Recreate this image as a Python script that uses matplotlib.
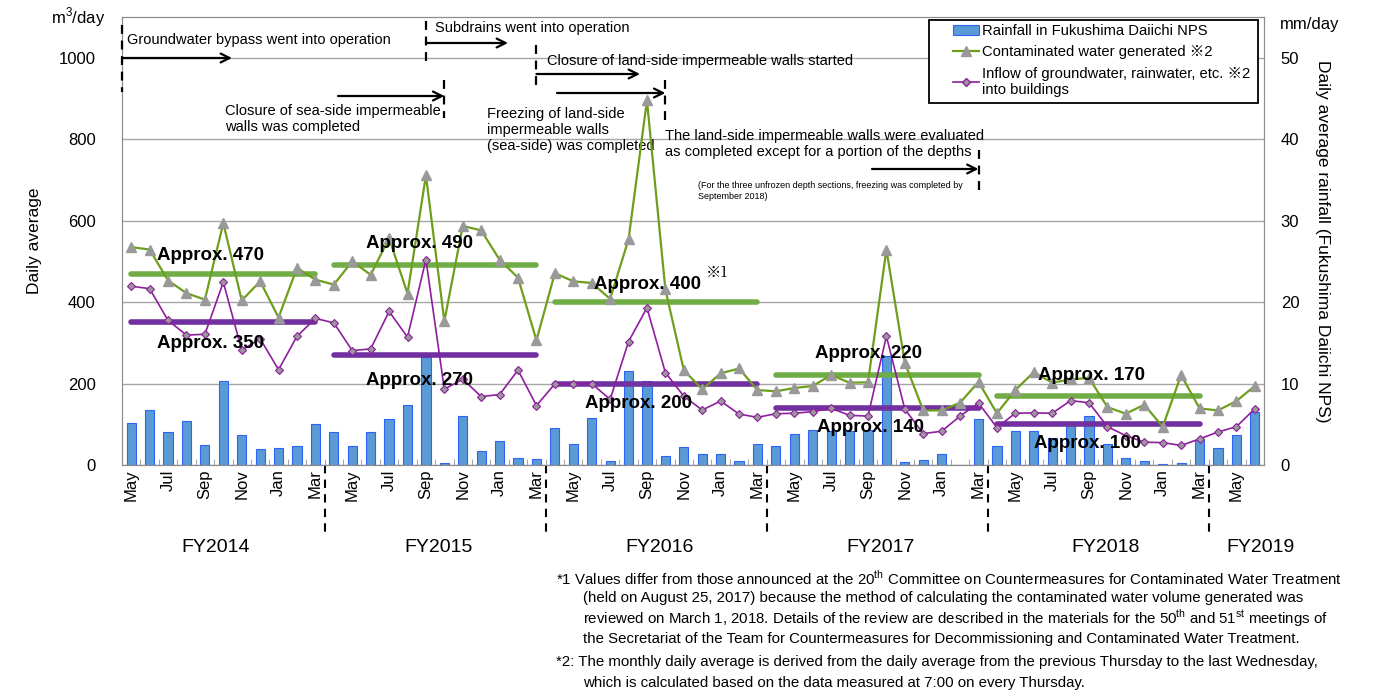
import matplotlib
matplotlib.use("Agg")
import matplotlib.pyplot as plt
import matplotlib.transforms as mtransforms
from matplotlib.patches import Patch, Rectangle
from matplotlib.lines import Line2D
import numpy as np

plt.rcParams['font.family'] = ['Liberation Sans', 'Noto Sans CJK JP', 'DejaVu Sans']
plt.rcParams['mathtext.fontset'] = 'custom'
plt.rcParams['mathtext.rm'] = 'Liberation Sans'

# ---------------- data ----------------
months = (['May', 'Jun', 'Jul', 'Aug', 'Sep', 'Oct', 'Nov', 'Dec', 'Jan', 'Feb', 'Mar']
          + ['Apr', 'May', 'Jun', 'Jul', 'Aug', 'Sep', 'Oct', 'Nov', 'Dec', 'Jan', 'Feb', 'Mar'] * 4
          + ['Apr', 'May', 'Jun'])
shown_months = ['May', 'Jul', 'Sep', 'Nov', 'Jan', 'Mar']

fiscal_years = ['FY2014', 'FY2015', 'FY2016', 'FY2017', 'FY2018', 'FY2019']

rainfall = [5.1, 6.7, 4.1, 5.4, 2.4, 10.3, 3.7, 2.0, 2.1, 2.3, 5.0,
            4.0, 2.3, 4.1, 5.6, 7.4, 13.2, 0.25, 6.0, 1.7, 3.0, 0.8, 0.7,
            4.5, 2.6, 5.8, 0.45, 11.5, 10.3, 1.1, 2.2, 1.35, 1.35, 0.45, 2.6,
            2.35, 3.8, 4.3, 4.2, 4.2, 4.3, 13.4, 0.4, 0.6, 1.3, 0.0, 5.6,
            2.35, 4.2, 4.2, 3.3, 5.3, 6.0, 2.6, 0.9, 0.5, 0.1, 0.25, 3.1,
            2.1, 3.7, 6.5]

contaminated = [535, 529, 453, 422, 406, 594, 404, 451, 362, 484, 455,
                443, 500, 467, 557, 421, 711, 353, 587, 576, 504, 460, 306,
                471, 451, 447, 408, 554, 895, 431, 233, 186, 225, 237, 184,
                181, 189, 194, 221, 202, 203, 529, 251, 134, 134, 153, 204,
                127, 184, 228, 202, 210, 214, 142, 126, 148, 94, 221, 139,
                134, 157, 194]

inflow = [439, 433, 355, 319, 321, 449, 282, 310, 234, 316, 360,
          349, 281, 285, 377, 314, 504, 186, 211, 168, 173, 233, 146,
          199, 199, 200, 161, 303, 386, 227, 169, 135, 157, 125, 117,
          126, 127, 131, 139, 122, 120, 316, 137, 77, 83, 120, 152,
          92, 127, 128, 127, 158, 153, 94, 72, 56, 55, 48, 64,
          81, 94, 138]

# FY averages
avg_contaminated = [470, 490, 400, 220, 170]
avg_inflow = [350, 270, 200, 140, 100]
fy_ranges = [(0, 10), (11, 22), (23, 34), (35, 46), (47, 58)]

# ---------------- figure ----------------
W, H = 1377, 694
fig = plt.figure(figsize=(W / 100, H / 100), dpi=100)
L, R, T, B = 122, 1264, 17, 465
ax = fig.add_axes([L / W, 1 - B / H, (R - L) / W, (B - T) / H])
ax2 = ax.twinx()

x = np.arange(len(months))

def px2x(px):
    return (px - L) / (R - L) * 62 - 0.5

def py2v(py):
    return (B - py) / (B - T) * 1100

# rainfall bars on ax (right scale)
ax.bar(x, rainfall, width=0.5, color='#5B9BD5', edgecolor='#2E64F5', linewidth=0.8, zorder=2)
ax.set_ylim(0, 55)
ax.set_xlim(-0.5, len(months) - 0.5)
ax.set_yticks([0, 10, 20, 30, 40, 50])
ax.yaxis.tick_right()
ax.yaxis.set_label_position('right')
ax.tick_params(axis='y', length=0, pad=12, labelsize=12)
ax.grid(axis='y', color='#A6A6A6', linewidth=1, zorder=0)
ax.set_axisbelow(True)

# x ticks
ax.set_xticks(x)
ax.set_xticklabels([m if (m in shown_months and not (i >= 59 and m != 'May')) else '' for i, m in enumerate(months)],
                   rotation=90, fontsize=12)
ax.tick_params(axis='x', length=0, pad=3)
ax.set_xticks(x[:-1] + 0.5, minor=True)
ax.tick_params(axis='x', which='minor', direction='in', length=4, color='#999999')

for s in ['left', 'right', 'top', 'bottom']:
    ax.spines[s].set_color('#8C8C8C')
    ax2.spines[s].set_color('#8C8C8C')

ax.set_ylabel('Daily average rainfall (Fukushima Daiichi NPS)', rotation=270, fontsize=12.5, labelpad=22)

# lines on ax2 (left scale)
ax2.yaxis.tick_left()
ax2.yaxis.set_label_position('left')
ax2.set_ylim(0, 1100)
ax2.set_yticks([0, 200, 400, 600, 800, 1000])
ax2.tick_params(axis='y', length=0, pad=19, labelsize=12)
ax2.set_ylabel('Daily average', fontsize=12.5, labelpad=12)

green = '#6E9F1C'
purple = '#8E1E9E'
ax2.plot(x, contaminated, color=green, lw=1.6, marker='^', ms=7.5,
         markerfacecolor='#999999', markeredgecolor='#999999', zorder=4)
ax2.plot(x, inflow, color=purple, lw=1.2, marker='D', ms=4.5,
         markerfacecolor='#999999', markeredgecolor=purple, markeredgewidth=0.8, zorder=4)

for (s, e), gv, pv in zip(fy_ranges, avg_contaminated, avg_inflow):
    ax2.plot([s, e], [gv, gv], color='#70AD47', lw=4, solid_capstyle='round', zorder=3)
    ax2.plot([s, e], [pv, pv], color='#7030A0', lw=4, solid_capstyle='round', zorder=3)

# Approx. labels (pixel positions)
approx_labels = [(157, 255, 'Approx. 470'), (157, 343, 'Approx. 350'),
                 (366, 243, 'Approx. 490'), (366, 380, 'Approx. 270'),
                 (594, 284, 'Approx. 400'), (585, 403, 'Approx. 200'),
                 (815, 353, 'Approx. 220'), (817, 427, 'Approx. 140'),
                 (1038, 375, 'Approx. 170'), (1034, 443, 'Approx. 100')]
for px, py, t in approx_labels:
    ax2.text(px2x(px), py2v(py), t, fontsize=13.5, fontweight='bold', va='center', ha='left', zorder=6)
ax2.text(px2x(706), py2v(273), '※1', fontsize=11, va='center', ha='left',
         family=['Noto Serif CJK JP', 'Noto Sans CJK JP'])

# ---------------- annotations ----------------
def vdash(xi, py0, py1):
    ax2.plot([xi, xi], [py2v(py0), py2v(py1)], color='black', lw=1.6, ls=(0, (4, 3)),
             clip_on=False, zorder=5)

def arrow(x0, x1, py):
    ax2.annotate('', xy=(x1, py2v(py)), xytext=(x0, py2v(py)),
                 arrowprops=dict(arrowstyle='->', color='black', lw=1.6, mutation_scale=16,
                                 shrinkA=0, shrinkB=0), zorder=5)

afs = 10.5
vdash(-0.5, 25, 92)
arrow(-0.5, px2x(232), 58)
ax2.text(px2x(127), py2v(40), 'Groundwater bypass went into operation', fontsize=afs, va='center')

vdash(16, 21, 62)
arrow(16, px2x(508), 43)
ax2.text(px2x(435), py2v(28), 'Subdrains went into operation', fontsize=afs, va='center')

vdash(17, 80, 118)
arrow(px2x(338), 17, 96)
ax2.text(px2x(225), py2v(119), 'Closure of sea-side impermeable\nwalls was completed', fontsize=afs,
         va='center', linespacing=1.15)

vdash(22, 45, 88)
arrow(22, px2x(640), 74)
ax2.text(px2x(547), py2v(61), 'Closure of land-side impermeable walls started', fontsize=afs, va='center')

vdash(29, 80, 120)
arrow(px2x(557), 29, 93)
ax2.text(px2x(487), py2v(130), 'Freezing of land-side\nimpermeable walls\n(sea-side) was completed',
         fontsize=afs, va='center', linespacing=1.15)

vdash(46, 150, 190)
arrow(px2x(872), 46, 169)
ax2.text(px2x(665), py2v(144), 'The land-side impermeable walls were evaluated\nas completed except for a portion of the depths',
         fontsize=afs, va='center', linespacing=1.15)
ax2.text(px2x(698), py2v(191), '(For the three unfrozen depth sections, freezing was completed by\nSeptember 2018)',
         fontsize=6.5, va='center', linespacing=1.2)

# FY separators and labels
trans = mtransforms.blended_transform_factory(ax.transData, ax.transAxes)
for b in [10.5, 22.5, 34.5, 46.5, 58.5]:
    ax.plot([b, b], [0, -70 / 448], transform=trans, color='black', lw=1.5, ls=(0, (4, 3)), clip_on=False)
fy_x = [4.6, 16.7, 28.7, 40.7, 52.9, 61.3]
for fx, fy in zip(fy_x, fiscal_years):
    ax.text(fx, -83 / 448, fy, transform=trans, ha='center', va='center', fontsize=14)

# unit labels
fig.text(78 / W, 1 - 17 / H, 'm$^3$/day', ha='center', va='center', fontsize=12)
fig.text(1310 / W, 1 - 25 / H, 'mm/day', ha='center', va='center', fontsize=12)

# legend (frame drawn separately)
fig.patches.append(Rectangle((929 / W, 1 - 103 / H), (1258 - 929) / W, (103 - 20) / H,
                             transform=fig.transFigure, facecolor='white', edgecolor='black',
                             linewidth=1.3, zorder=9))
handles = [Patch(facecolor='#5B9BD5', edgecolor='#2E64F5', linewidth=0.8),
           Line2D([], [], color=green, lw=1.6, marker='^', ms=7, markerfacecolor='#999999', markeredgecolor='#999999'),
           Line2D([], [], color=purple, lw=1.2, marker='D', ms=4.5, markerfacecolor='#999999', markeredgecolor=purple)]
labels = ['Rainfall in Fukushima Daiichi NPS', 'Contaminated water generated ※2',
          'Inflow of groundwater, rainwater, etc. ※2\ninto buildings']
leg = fig.legend(handles, labels, loc='upper left', bbox_to_anchor=(950 / W, 1 - 21 / H),
                 fontsize=10.6, frameon=False,
                 handlelength=1.8, handletextpad=0.15, labelspacing=0.5, borderpad=0.2, borderaxespad=0)
leg.set_zorder(10)

# footnotes
fn = 10.8
fig.text(556 / W, 1 - 578 / H, '*1 Values differ from those announced at the 20$^{\\rm th}$ Committee on Countermeasures for Contaminated Water Treatment',
         fontsize=fn, va='center')
fig.text(583 / W, 1 - 598 / H, '(held on August 25, 2017) because the method of calculating the contaminated water volume generated was',
         fontsize=fn, va='center')
fig.text(583 / W, 1 - 618 / H, 'reviewed on March 1, 2018. Details of the review are described in the materials for the 50$^{\\rm th}$ and 51$^{\\rm st}$ meetings of',
         fontsize=fn, va='center')
fig.text(583 / W, 1 - 639 / H, 'the Secretariat of the Team for Countermeasures for Decommissioning and Contaminated Water Treatment.',
         fontsize=fn, va='center')
fig.text(556 / W, 1 - 662 / H, '*2: The monthly daily average is derived from the daily average from the previous Thursday to the last Wednesday,',
         fontsize=fn, va='center')
fig.text(583 / W, 1 - 683 / H, 'which is calculated based on the data measured at 7:00 on every Thursday.',
         fontsize=fn, va='center')

fig.savefig('out.png', dpi=100)
